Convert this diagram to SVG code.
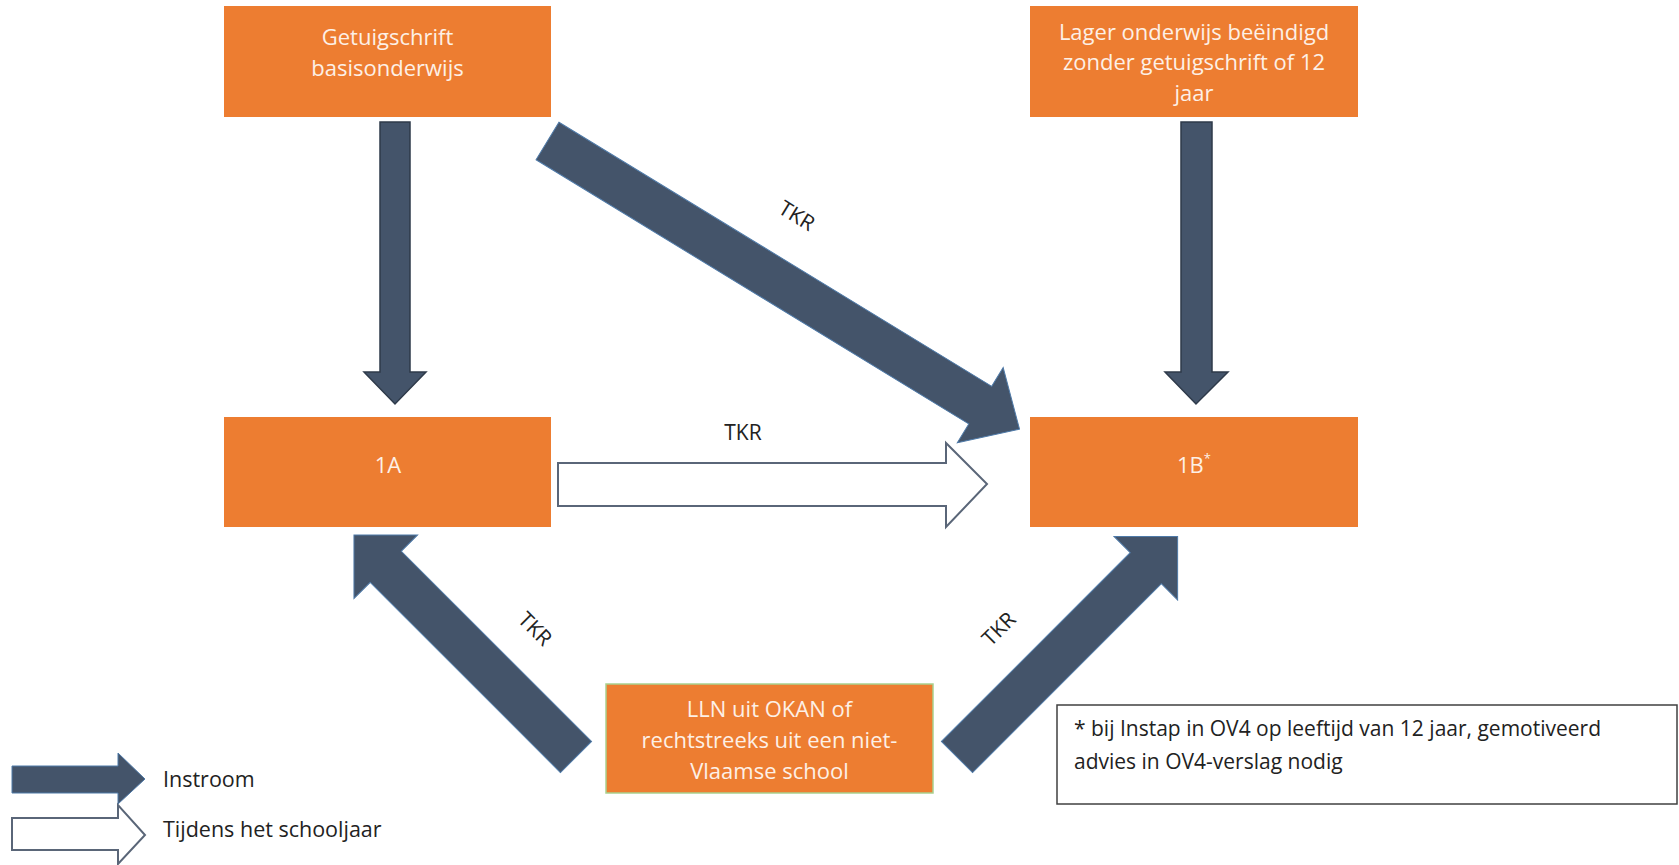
<svg xmlns="http://www.w3.org/2000/svg" width="1679" height="865" viewBox="0 0 1679 865">
<style>
.box{fill:#ED7D31;}
.bt{font-family:"Open Sans","Noto Sans",sans-serif;font-size:22px;fill:#FDF0E6;text-anchor:middle;}
.lbl{font-family:"Open Sans","Noto Sans",sans-serif;font-size:21px;fill:#222;text-anchor:middle;}
.txt{font-family:"Open Sans","Noto Sans",sans-serif;font-size:21px;fill:#222;}
.leg{font-family:"Open Sans","Noto Sans",sans-serif;font-size:21.5px;fill:#222;}
.dark{fill:#44546A;stroke:#2E3A4A;stroke-width:1.5;}
.darkd{fill:#44546A;stroke:#4F7AA8;stroke-width:1;}
.white{fill:#FFFFFF;stroke:#5A6678;stroke-width:2;}
</style>
<rect width="1679" height="865" fill="#FFFFFF"/>
<g id="connectors">
  <polygon class="dark" points="380,122 410,122 410,372 426,372 395,404 364,372 380,372"/>
  <polygon class="dark" points="1181,122 1212,122 1212,372 1228,372 1196,404 1165,372 1181,372"/>
  <polygon class="darkd" transform="translate(547.5,141) rotate(31.4)" points="0,-22 507,-22 507,-44 553,0 507,44 507,22 0,22"/>
  <text class="lbl" transform="translate(793,222) rotate(31.4)">TKR</text>
  <polygon class="white" points="558,463 946,463 946,443 987,484 946,527 946,506 558,506"/>
  <text class="lbl" x="743" y="440">TKR</text>
  <polygon class="darkd" transform="translate(576,757) rotate(-135)" points="0,-22 269,-22 269,-45 314,0 269,45 269,22 0,22"/>
  <text class="lbl" transform="translate(530,634) rotate(45)">TKR</text>
  <polygon class="darkd" transform="translate(957,757) rotate(-45)" points="0,-22 267,-22 267,-45 312,0 267,45 267,22 0,22"/>
  <text class="lbl" transform="translate(1004,634) rotate(-45)">TKR</text>
</g>
<g id="node-getuigschrift">
  <rect class="box" x="224" y="6" width="327" height="111"/>
  <text class="bt" x="387.5" y="45">Getuigschrift</text>
  <text class="bt" x="387.5" y="76">basisonderwijs</text>
</g>
<g id="node-lager">
  <rect class="box" x="1030" y="6" width="328" height="111"/>
  <text class="bt" x="1194" y="40">Lager onderwijs beëindigd</text>
  <text class="bt" x="1194" y="70">zonder getuigschrift of 12</text>
  <text class="bt" x="1194" y="101">jaar</text>
</g>
<g id="node-1a">
  <rect class="box" x="224" y="417" width="327" height="110"/>
  <text class="bt" x="388" y="473">1A</text>
</g>
<g id="node-1b">
  <rect class="box" x="1030" y="417" width="328" height="110"/>
  <text class="bt" x="1194" y="473">1B<tspan font-size="13" dy="-10">*</tspan></text>
</g>
<g id="node-lln">
  <rect class="box" x="606" y="684" width="327" height="109" stroke="#A9D18E" stroke-width="1.5"/>
  <text class="bt" x="769.5" y="717">LLN uit OKAN of</text>
  <text class="bt" x="769.5" y="748">rechtstreeks uit een niet-</text>
  <text class="bt" x="769.5" y="779">Vlaamse school</text>
</g>
<g id="footnote">
  <rect x="1057" y="705" width="620" height="99" fill="#FFFFFF" stroke="#404040" stroke-width="1.5"/>
  <text class="txt" x="1074" y="736">* bij Instap in OV4 op leeftijd van 12 jaar, gemotiveerd</text>
  <text class="txt" x="1074" y="769">advies in OV4-verslag nodig</text>
</g>
<g id="legend">
  <polygon class="darkd" points="12,766 118,766 118,753 145,779 118,804 118,793 12,793"/>
  <text class="leg" x="163" y="787">Instroom</text>
  <polygon class="white" points="12,818 118,818 118,805 145,835 118,864 118,850 12,850"/>
  <text class="leg" x="163" y="837">Tijdens het schooljaar</text>
</g>
</svg>
